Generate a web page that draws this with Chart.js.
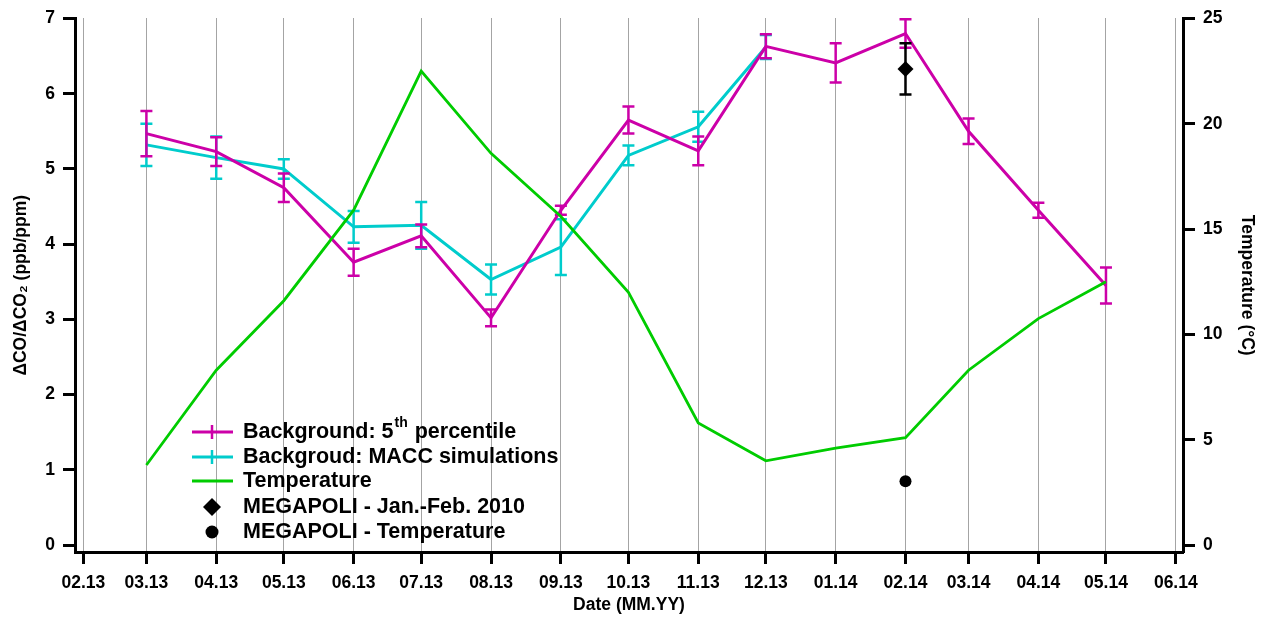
<!DOCTYPE html>
<html>
<head>
<meta charset="utf-8">
<script src="https://cdn.jsdelivr.net/npm/chart.js@4.4.0/dist/chart.umd.min.js"></script>
<style>
  body { margin: 0; background: #fff; }
  #contenedor { width: 1270px; height: 619px; position: relative; }
</style>
</head>
<body>
<div id="contenedor"><canvas id="grafico"></canvas></div>
<script>
// etiquetas del eje x (primer dia de cada mes)
const meses = ['02.13', '03.13', '04.13', '05.13', '06.13', '07.13', '08.13', '09.13',
               '10.13', '11.13', '12.13', '01.14', '02.14', '03.14', '04.14', '05.14', '06.14'];

// fondo: percentil 5
const mesesP5 = ['03.13', '04.13', '05.13', '06.13', '07.13', '08.13', '09.13', '10.13',
                 '11.13', '12.13', '01.14', '02.14', '03.14', '04.14', '05.14'];
const fondoP5 = [5.47, 5.23, 4.75, 3.76, 4.11, 3.02, 4.45, 5.65, 5.24, 6.63, 6.41, 6.80, 5.50, 4.45, 3.45];
const fondoP5Err = [0.30, 0.19, 0.19, 0.18, 0.15, 0.11, 0.06, 0.18, 0.19, 0.16, 0.26, 0.19, 0.17, 0.10, 0.24];

// fondo: simulaciones MACC
const mesesMacc = ['03.13', '04.13', '05.13', '06.13', '07.13', '08.13', '09.13', '10.13', '11.13', '12.13'];
const fondoMacc = [5.32, 5.15, 5.00, 4.23, 4.25, 3.53, 3.96, 5.18, 5.56, 6.62];
const fondoMaccErr = [0.28, 0.28, 0.13, 0.21, 0.31, 0.20, 0.37, 0.13, 0.20, 0.16];

// temperatura (eje derecho)
const temperatura = [3.8, 8.3, 11.6, 15.9, 22.5, 18.6, 15.6, 12.0, 5.8, 4.0, 4.6, 5.1, 8.3, 10.75, 12.5];

// MEGAPOLI
const mesesMegapoli = ['02.14'];
const megapoliRatio = [6.33];
const megapoliErr = [0.34];
const megapoliTemp = [3.03];

const ticksIzq = [0, 1, 2, 3, 4, 5, 6, 7];
const ticksDer = [0, 5, 10, 15, 20, 25];

const MAGENTA = '#cc00a8';
const CIAN = '#00cccc';
const VERDE = '#00cc00';
const fuente = { family: "'Liberation Sans', Arial, sans-serif", size: 17.5, weight: 'bold' };

function diaDesdeInicio(etiqueta) {
  const [mm, yy] = etiqueta.split('.').map(Number);
  return (Date.UTC(2000 + yy, mm - 1, 1) - Date.UTC(2013, 1, 1)) / 86400000;
}

function puntos(etiquetas, valores) {
  return etiquetas.map((m, i) => ({ x: diaDesdeInicio(m), y: valores[i] }));
}

// barras de error dibujadas justo despues de cada serie
const barrasError = {
  id: 'barrasError',
  afterDatasetDraw(chart, args) {
    const ds = chart.data.datasets[args.index];
    if (!ds.errores) return;
    const escalaY = chart.scales[ds.yAxisID];
    const ctx = chart.ctx;
    ctx.save();
    ctx.strokeStyle = ds.colorError;
    ctx.lineWidth = 2.5;
    args.meta.data.forEach((pt, i) => {
      const v = ds.data[i].y;
      const e = ds.errores[i];
      const y1 = escalaY.getPixelForValue(v + e);
      const y2 = escalaY.getPixelForValue(v - e);
      ctx.beginPath();
      ctx.moveTo(pt.x, y1); ctx.lineTo(pt.x, y2);
      ctx.moveTo(pt.x - 6, y1); ctx.lineTo(pt.x + 6, y1);
      ctx.moveTo(pt.x - 6, y2); ctx.lineTo(pt.x + 6, y2);
      ctx.stroke();
    });
    ctx.restore();
  }
};

// leyenda propia (por el superindice)
const leyenda = {
  id: 'leyenda',
  afterDraw(chart) {
    const ctx = chart.ctx;
    const xa = 192, xb = 233, xc = 212, xt = 243;
    const filas = [432, 457, 481, 507, 532];
    const f = "bold 21.5px 'Liberation Sans', Arial, sans-serif";
    ctx.save();
    ctx.textBaseline = 'middle';
    ctx.textAlign = 'left';
    ctx.fillStyle = '#000';

    // simbolos
    [[MAGENTA, filas[0]], [CIAN, filas[1]]].forEach(([c, y]) => {
      ctx.strokeStyle = c;
      ctx.lineWidth = 3;
      ctx.beginPath(); ctx.moveTo(xa, y); ctx.lineTo(xb, y); ctx.stroke();
      ctx.lineWidth = 2.5;
      ctx.beginPath(); ctx.moveTo(xc, y - 7); ctx.lineTo(xc, y + 7); ctx.stroke();
    });
    ctx.strokeStyle = VERDE;
    ctx.lineWidth = 2.8;
    ctx.beginPath(); ctx.moveTo(xa, filas[2]); ctx.lineTo(xb, filas[2]); ctx.stroke();

    ctx.beginPath();
    ctx.moveTo(xc, filas[3] - 9); ctx.lineTo(xc + 9, filas[3]);
    ctx.lineTo(xc, filas[3] + 9); ctx.lineTo(xc - 9, filas[3]);
    ctx.closePath(); ctx.fill();
    ctx.beginPath(); ctx.arc(xc, filas[4], 6.5, 0, Math.PI * 2); ctx.fill();

    // textos
    ctx.font = f;
    const t1 = 'Background: 5';
    ctx.fillText(t1, xt, filas[0]);
    let w = ctx.measureText(t1).width;
    ctx.font = "bold 14px 'Liberation Sans', Arial, sans-serif";
    ctx.fillText('th', xt + w + 1, filas[0] - 9);
    const w2 = ctx.measureText('th').width;
    ctx.font = f;
    ctx.fillText(' percentile', xt + w + w2 + 2, filas[0]);
    ctx.fillText('Backgroud: MACC simulations', xt, filas[1]);
    ctx.fillText('Temperature', xt, filas[2]);
    ctx.fillText('MEGAPOLI - Jan.-Feb. 2010', xt, filas[3]);
    ctx.fillText('MEGAPOLI - Temperature', xt, filas[4]);
    ctx.restore();
  }
};

const ctx = document.getElementById('grafico');

new Chart(ctx, {
  type: 'line',
  data: {
    datasets: [{
      label: 'Temperature',
      data: puntos(mesesP5, temperatura),
      yAxisID: 'yT',
      borderColor: VERDE,
      borderWidth: 2.8,
      pointRadius: 0,
      tension: 0,
      order: 1
    }, {
      label: 'Background: 5th percentile',
      data: puntos(mesesP5, fondoP5),
      errores: fondoP5Err,
      colorError: MAGENTA,
      yAxisID: 'y',
      borderColor: MAGENTA,
      borderWidth: 3,
      pointRadius: 0,
      tension: 0,
      order: 2
    }, {
      label: 'Backgroud: MACC simulations',
      data: puntos(mesesMacc, fondoMacc),
      errores: fondoMaccErr,
      colorError: CIAN,
      yAxisID: 'y',
      borderColor: CIAN,
      borderWidth: 3,
      pointRadius: 0,
      tension: 0,
      order: 3
    }, {
      label: 'MEGAPOLI - Jan.-Feb. 2010',
      data: puntos(mesesMegapoli, megapoliRatio),
      errores: megapoliErr,
      colorError: '#000',
      yAxisID: 'y',
      showLine: false,
      pointStyle: 'rectRot',
      pointRadius: 8,
      backgroundColor: '#000',
      borderColor: '#000',
      borderWidth: 0,
      order: 0
    }, {
      label: 'MEGAPOLI - Temperature',
      data: puntos(mesesMegapoli, megapoliTemp),
      yAxisID: 'yT',
      showLine: false,
      pointStyle: 'circle',
      pointRadius: 6,
      backgroundColor: '#000',
      borderColor: '#000',
      borderWidth: 0,
      order: 0
    }]
  },
  options: {
    responsive: true,
    maintainAspectRatio: false,
    animation: false,
    layout: { padding: { top: 17, left: 0, right: 0, bottom: 0 } },
    plugins: { legend: { display: false }, tooltip: { enabled: false } },
    scales: {
      x: {
        type: 'linear',
        min: -3.7,
        max: 488.2,
        afterBuildTicks: (s) => { s.ticks = meses.map(m => ({ value: diaDesdeInicio(m) })); },
        afterFit: (s) => { s.height = 67; },
        ticks: {
          callback: (v, i) => meses[i],
          font: fuente, color: '#000', padding: 9, maxRotation: 0, autoSkip: false
        },
        grid: { color: '#4a4a4a', lineWidth: 1, tickLength: 12, tickColor: '#000', tickWidth: 3, tickBorderDash: [] },
        border: { color: '#000', width: 3, dash: [1, 1] },
        title: { display: true, text: 'Date (MM.YY)', font: fuente, color: '#000', padding: { top: 0, bottom: 3 } }
      },
      y: {
        type: 'linear',
        position: 'left',
        min: -0.093,
        max: 7,
        afterBuildTicks: (s) => { s.ticks = ticksIzq.map(v => ({ value: v })); },
        afterFit: (s) => { s.width = 75; },
        ticks: { font: fuente, color: '#000', padding: 8 },
        grid: { drawOnChartArea: false, tickLength: 12, tickColor: '#000', tickWidth: 3 },
        border: { color: '#000', width: 3 },
        title: { display: true, text: 'ΔCO/ΔCO₂ (ppb/ppm)', font: fuente, color: '#000', padding: { top: 10.5, bottom: 0 } }
      },
      yT: {
        type: 'linear',
        position: 'right',
        min: -0.331,
        max: 25,
        afterBuildTicks: (s) => { s.ticks = ticksDer.map(v => ({ value: v })); },
        afterFit: (s) => { s.width = 87; },
        ticks: { font: fuente, color: '#000', padding: 8 },
        grid: { drawOnChartArea: false, tickLength: 12, tickColor: '#000', tickWidth: 3 },
        border: { color: '#000', width: 3 },
        title: { display: true, text: 'Temperature (°C)', font: fuente, color: '#000', padding: { top: 12.5, bottom: 0 } }
      }
    }
  },
  plugins: [barrasError, leyenda]
});
</script>
</body>
</html>
